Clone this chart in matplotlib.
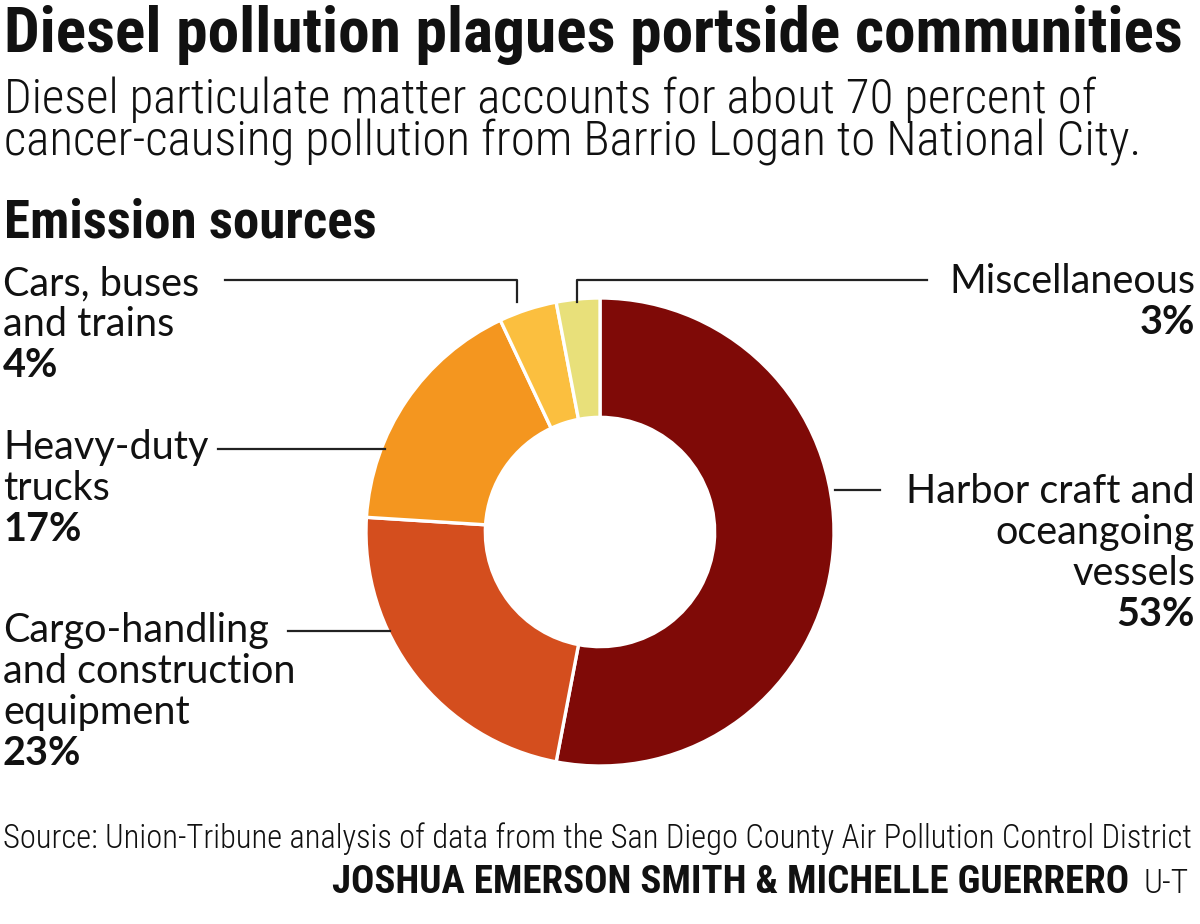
import matplotlib
matplotlib.use("Agg")
import matplotlib.pyplot as plt
import matplotlib.font_manager as fm
from matplotlib.lines import Line2D

# data
sources = ["Harbor craft and\noceangoing\nvessels",
           "Cargo-handling\nand construction\nequipment",
           "Heavy-duty\ntrucks",
           "Cars, buses\nand trains",
           "Miscellaneous"]
shares = [53, 23, 17, 4, 3]
colors = ["#7f0a07", "#d44e1e", "#f4961f", "#fbbf3f", "#e8e07a"]

W, H = 1200, 924
INK = "#111111"

installed = {f.name for f in fm.fontManager.ttflist}


def pick(cands):
    for c in cands:
        if c in installed:
            return c
    return "DejaVu Sans"


COND = pick(["Roboto Condensed", "Barlow Condensed", "Archivo Narrow",
             "Fira Sans Condensed", "PT Sans Narrow", "Saira SemiCondensed",
             "Sofia Sans Condensed"])
BODY = pick(["Lato", "Roboto", "Open Sans"])

fig = plt.figure(figsize=(W / 100, H / 100), dpi=100)
fig.patch.set_facecolor("white")
renderer = fig.canvas.get_renderer()


def fx(px):
    return px / W


def fy(py):
    return 1 - py / H


def txt(x, y, s, size, weight="normal", ha="left", family=COND, width=None):
    t = fig.text(fx(x), fy(y), s, fontsize=size, fontweight=weight, ha=ha,
                 va="baseline", family=[family, "DejaVu Sans"], color=INK)
    if width:
        w = t.get_window_extent(renderer).width
        t.set_fontsize(size * width / w)
    return t


# header
txt(4, 52, "Diesel pollution plagues portside communities", 40, "heavy", width=1175)
txt(4, 113, "Diesel particulate matter accounts for about 70 percent of", 28, "light", width=1093)
txt(4, 155, "cancer-causing pollution from Barrio Logan to National City.", 28, "light", width=1136)
txt(4, 237, "Emission sources", 28, "heavy", width=373)

# donut
cx, cy, r = 600, 532, 234
ax = fig.add_axes([fx(cx - r), fy(cy + r), 2 * r / W, 2 * r / H])
ax.pie(shares, colors=colors, startangle=90, counterclock=False,
       wedgeprops=dict(width=0.51, edgecolor="white", linewidth=2.4))
ax.set_xlim(-1, 1)
ax.set_ylim(-1, 1)
ax.set_aspect("auto")
ax.axis("off")

# leader lines
overlay = fig.add_axes([0, 0, 1, 1], facecolor="none")
overlay.set_xlim(0, W)
overlay.set_ylim(H, 0)
overlay.axis("off")
leaders = [
    [(225, 280), (517, 280), (517, 302)],
    [(577, 302), (577, 280), (927, 280)],
    [(218, 449), (385, 449)],
    [(288, 631), (390, 631)],
    [(835, 490), (880, 490)],
]
for pts in leaders:
    xs, ys = zip(*pts)
    overlay.add_line(Line2D(xs, ys, color="#222222", lw=1.6))

# label font size fitted on "Heavy-duty"
probe = txt(-500, -500, "Heavy-duty", 25, family=BODY, width=205)
label_size = probe.get_fontsize()
probe.remove()

# labels: (first baseline, x, ha)
label_pos = [
    (503, 1195, "right"),
    (642, 3, "left"),
    (459, 3, "left"),
    (295, 3, "left"),
    (293, 1195, "right"),
]
step = 41
for name, val, (yb, x, ha) in zip(sources, shares, label_pos):
    lines = name.split("\n")
    for i, line in enumerate(lines):
        txt(x, yb + i * step, line, label_size, ha=ha, family=BODY)
    txt(x, yb + len(lines) * step, f"{val}%", label_size, "bold", ha=ha, family=BODY)

# footer
txt(3, 848, "Source: Union-Tribune analysis of data from the San Diego County Air Pollution Control District",
    18, "light", width=1192)
txt(1189, 893, "U-T", 20, "light", ha="right", width=45)
txt(1129, 893, "JOSHUA EMERSON SMITH & MICHELLE GUERRERO", 20, "bold", ha="right", width=797)

fig.savefig("out.png", dpi=100, facecolor="white")
